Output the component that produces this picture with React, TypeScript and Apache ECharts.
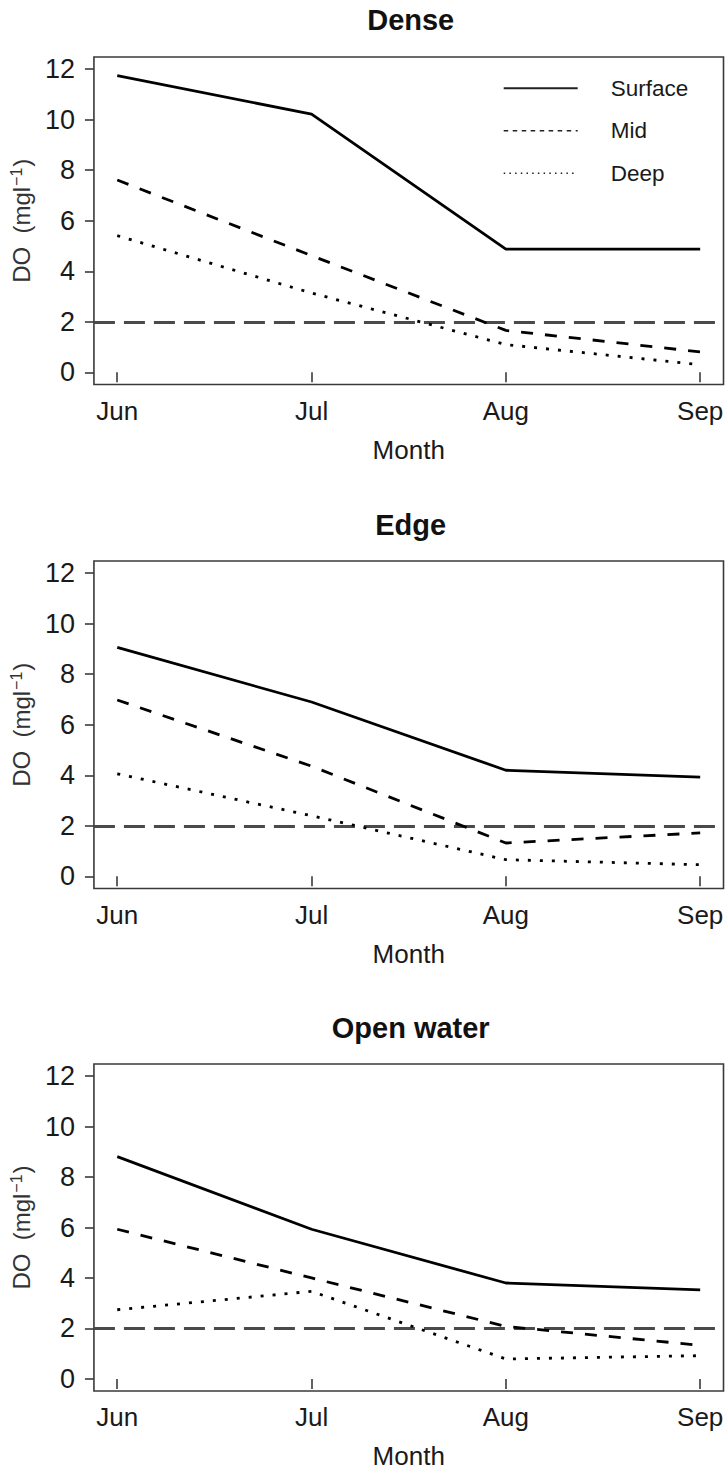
import React, { useEffect, useRef } from "react";
import * as echarts from "echarts";

// Months on the x axis and the y ticks
const months = ["Jun", "Jul", "Aug", "Sep"];
const yTicks = [0, 2, 4, 6, 8, 10, 12];
const panelTitles = ["Dense", "Edge", "Open water"];
const depthNames = ["Surface", "Mid", "Deep"];

// Dissolved oxygen (mg/l) by depth, per site
const denseSurface = [11.74, 10.22, 4.88, 4.88];
const denseMid = [7.61, 4.62, 1.66, 0.81];
const denseDeep = [5.41, 3.14, 1.1, 0.3];

const edgeSurface = [9.06, 6.9, 4.2, 3.93];
const edgeMid = [6.98, 4.36, 1.32, 1.72];
const edgeDeep = [4.06, 2.4, 0.66, 0.46];

const openSurface = [8.81, 5.93, 3.8, 3.53];
const openMid = [5.93, 4.0, 2.08, 1.33];
const openDeep = [2.74, 3.47, 0.79, 0.92];

// Hypoxia threshold
const threshold = 2;

const FONT = "'Liberation Sans', Arial, Helvetica, sans-serif";

export default function App() {
  const ref = useRef<HTMLDivElement>(null);

  useEffect(() => {
    if (!ref.current) return;
    const chart = echarts.init(ref.current, undefined, { renderer: "svg" });

    const panels = [
      [denseSurface, denseMid, denseDeep],
      [edgeSurface, edgeMid, edgeDeep],
      [openSurface, openMid, openDeep],
    ];
    const boxTops = [57, 561, 1064];
    const boxHeight = 327.5;
    const titleCenters = [20, 525, 1028];

    const lineStyles: any[] = [
      { type: "solid", width: 2.8 },
      { type: [12, 12], width: 2.8 },
      { type: [3, 9], width: 2.8 },
    ];

    const grids = boxTops.map((t) => ({
      left: 88,
      right: 3.5,
      top: t,
      height: boxHeight,
      show: true,
      borderColor: "#3a3a3a",
      borderWidth: 1.6,
      backgroundColor: "transparent",
    }));

    const xAxes = boxTops.map((_, i) => ({
      type: "value",
      gridIndex: i,
      min: 0.88,
      max: 4.12,
      axisLine: { show: false },
      splitLine: { show: false },
      axisTick: {
        show: true,
        length: 10,
        customValues: months.map((_, k) => k + 1),
        lineStyle: { color: "#3a3a3a", width: 1.6 },
      },
      axisLabel: {
        show: true,
        customValues: months.map((_, k) => k + 1),
        formatter: (v: number) => months[Math.round(v) - 1] ?? "",
        margin: 13,
        fontSize: 26,
        fontFamily: FONT,
        color: "#1a1a1a",
      },
      name: "Month",
      nameLocation: "middle",
      nameGap: 52,
      nameTextStyle: { fontSize: 26, fontFamily: FONT, color: "#1a1a1a" },
    }));

    const yAxes = boxTops.map((_, i) => ({
      type: "value",
      gridIndex: i,
      min: -0.48,
      max: 12.48,
      axisLine: { show: false },
      splitLine: { show: false },
      axisTick: {
        show: true,
        length: 9,
        customValues: yTicks,
        lineStyle: { color: "#3a3a3a", width: 1.6 },
      },
      axisLabel: {
        show: true,
        customValues: yTicks,
        margin: 19,
        fontSize: 27,
        fontFamily: FONT,
        color: "#1a1a1a",
      },
      name: "{a|DO  (mgl}{s|−1}{a|)}",
      nameLocation: "middle",
      nameRotate: 90,
      nameGap: 45,
      nameTextStyle: {
        rich: {
          a: { fontSize: 24, fontFamily: FONT, color: "#333", lineHeight: 26 },
          s: {
            fontSize: 16,
            fontFamily: FONT,
            color: "#333",
            verticalAlign: "top",
            lineHeight: 26,
            padding: [0, 1, 10, 1],
          },
        },
      },
    }));

    const series: any[] = [];
    panels.forEach((vals, p) => {
      vals.forEach((arr, k) => {
        const s: any = {
          type: "line",
          name: depthNames[k],
          xAxisIndex: p,
          yAxisIndex: p,
          data: arr.map((v, j) => [j + 1, v]),
          symbol: "none",
          color: "#000",
          lineStyle: { color: "#000", cap: "butt", join: "round", ...lineStyles[k] },
          silent: true,
          z: 3,
        };
        if (k === 0) {
          s.markLine = {
            silent: true,
            symbol: ["none", "none"],
            label: { show: false },
            lineStyle: { color: "#4a4a4a", type: [21, 9], width: 2.8 },
            data: [{ yAxis: threshold }],
            z: 2,
          };
        }
        series.push(s);
      });
    });

    const hiddenMarker = { opacity: 0, color: "transparent", borderWidth: 0 };

    chart.setOption({
      animation: false,
      backgroundColor: "#fff",
      title: panelTitles.map((t, i) => ({
        text: t,
        left: 405.7,
        textAlign: "center",
        top: titleCenters[i] - 20,
        textStyle: {
          fontSize: 29,
          fontWeight: "bold",
          fontFamily: FONT,
          color: "#111",
          lineHeight: 30,
        },
      })),
      legend: {
        left: 497.7,
        top: 71.7,
        orient: "vertical",
        itemWidth: 74,
        itemHeight: 14,
        itemGap: 19.5,
        selectedMode: false,
        itemStyle: hiddenMarker,
        textStyle: {
          fontSize: 22.5,
          fontFamily: FONT,
          color: "#1a1a1a",
          padding: [0, 0, 0, 28],
          lineHeight: 22,
        },
        data: [
          { name: depthNames[0], itemStyle: hiddenMarker, lineStyle: { type: "solid", width: 2, color: "#222" } },
          { name: depthNames[1], itemStyle: hiddenMarker, lineStyle: { type: [4.5, 4.5], width: 1.4, color: "#222" } },
          { name: depthNames[2], itemStyle: hiddenMarker, lineStyle: { type: [1.5, 4.2], width: 1.4, color: "#222" } },
        ],
      },
      grid: grids,
      xAxis: xAxes,
      yAxis: yAxes,
      series,
    });

    return () => chart.dispose();
  }, []);

  return (
    <div
      ref={ref}
      style={{ position: "absolute", left: 0, top: 0, width: 727, height: 1470 }}
    />
  );
}
